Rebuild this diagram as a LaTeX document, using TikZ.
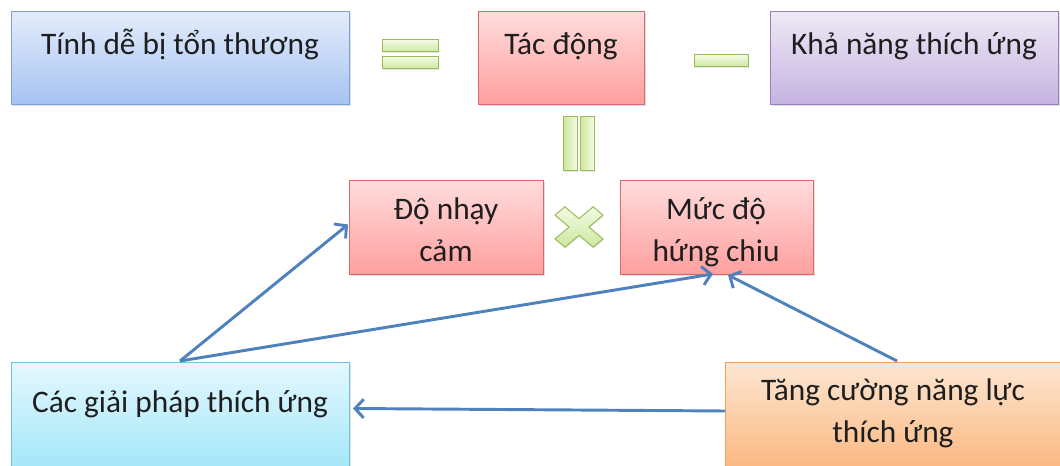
\documentclass[tikz,border=0pt]{standalone}
\usepackage{fontspec}
\setmainfont{Carlito}
\usetikzlibrary{arrows.meta,shadows,calc}
\definecolor{arrowblue}{HTML}{4F81BD}
\definecolor{txtcol}{HTML}{1E1E1E}
\definecolor{bluetop}{HTML}{E4ECFB}\definecolor{bluebot}{HTML}{A6C3F2}\definecolor{blueline}{HTML}{7A9ED6}
\definecolor{redtop}{HTML}{FFDCDC}\definecolor{redbot}{HTML}{FF9F9F}\definecolor{redline}{HTML}{D8686A}
\definecolor{purtop}{HTML}{EFE9F6}\definecolor{purbot}{HTML}{C5B3E1}\definecolor{purline}{HTML}{9A80BB}
\definecolor{cyantop}{HTML}{E4F8FE}\definecolor{cyanbot}{HTML}{9EE5F8}\definecolor{cyanline}{HTML}{6FC4DA}
\definecolor{orgtop}{HTML}{FDE6D2}\definecolor{orgbot}{HTML}{FBB47A}\definecolor{orgline}{HTML}{F2A05A}
\definecolor{optop}{HTML}{F3FBE4}\definecolor{opbot}{HTML}{CBE79E}\definecolor{opline}{HTML}{9BBB59}
\begin{document}
\begin{tikzpicture}[x=0.75pt,y=-0.75pt,
  box/.style 2 args={draw, line width=0.75pt, anchor=north west, inner sep=0pt,
    minimum width=#1*0.75pt, minimum height=#2*0.75pt,
    drop shadow={shadow xshift=0.8pt, shadow yshift=-1.2pt, opacity=0.25}},
  bluebox/.style={top color=bluetop, bottom color=bluebot, draw=blueline},
  redbox/.style={top color=redtop, bottom color=redbot, draw=redline},
  purbox/.style={top color=purtop, bottom color=purbot, draw=purline},
  cyanbox/.style={top color=cyantop, bottom color=cyanbot, draw=cyanline},
  orgbox/.style={top color=orgtop, bottom color=orgbot, draw=orgline},
  txt/.style={text=txtcol, font=\fontsize{23.5}{31.5}\selectfont, align=center, inner sep=0pt, anchor=base},
  opbar/.style={draw=opline, line width=0.75pt, top color=optop, bottom color=opbot,
    drop shadow={shadow xshift=0.6pt, shadow yshift=-0.8pt, opacity=0.2}},
  opvbar/.style={draw=opline, line width=0.75pt, left color=opbot, right color=optop,
    drop shadow={shadow xshift=0.6pt, shadow yshift=-0.8pt, opacity=0.2}},
  arr/.style={draw=arrowblue, line width=2.2pt, -{Straight Barb[length=6.5pt,width=14pt]}}
]
\useasboundingbox (0,0) rectangle (1060,466);
\clip (0,0) rectangle (1060,466);

% boxes
\node[box={338}{93}, bluebox] (vul) at (11,11) {};
\node[box={166}{93}, redbox] (imp) at (478,11) {};
\node[box={288}{93}, purbox] (cap) at (770,11) {};
\node[box={194}{94}, redbox] (sens) at (349,180) {};
\node[box={193}{94}, redbox] (exp) at (620,180) {};
\node[box={338}{115}, cyanbox] (sol) at (11,362) {};
\node[box={345}{115}, orgbox] (enh) at (725,362) {};

% texts (two-line texts are anchored at the baseline of their last line)
\node[txt] (vulT) at (180,55) {Tính dễ bị tổn thương};
\node[txt] (impT) at (561,55) {Tác động};
\node[txt] (capT) at (914,55) {Khả năng thích ứng};
\node[txt] (sensT) at (446,262) {Độ nhạy\\cảm};
\node[txt] (expT) at (716,262) {Mức độ\\hứng chiu};
\node[txt] (solT) at (180,412) {Các giải pháp thích ứng};
\node[txt] (enhT) at (893,442) {Tăng cường năng lực\\thích ứng};

% operators
\draw[opbar] (382,40) rectangle (438,52);
\draw[opbar] (382,57) rectangle (438,69);
\draw[opbar] (694,55) rectangle (748,67);
\draw[opvbar] (563,117) rectangle (577,171);
\draw[opvbar] (580,117) rectangle (594,171);
\begin{scope}[shift={(579,227)}, yscale=0.84, rotate=45]
  \draw[opbar] (-7,-27) -- (7,-27) -- (7,-7) -- (27,-7) -- (27,7) -- (7,7)
    -- (7,27) -- (-7,27) -- (-7,7) -- (-27,7) -- (-27,-7) -- (-7,-7) -- cycle;
\end{scope}

% connectors
\coordinate (solTop) at (180,361);
\coordinate (enhTop) at (897,361);
\draw[arr] (solTop) -- ($(sens.west)+(-1,-3)$);
\draw[arr] (solTop) -- ($(exp.south)+(-4,-1)$);
\draw[arr] (enhTop) -- ($(exp.south)+(11,0)$);
\draw[arr] ($(enh.west)+(0,-9)$) -- ($(sol.east)+(3,-11.5)$);
\end{tikzpicture}
\end{document}
